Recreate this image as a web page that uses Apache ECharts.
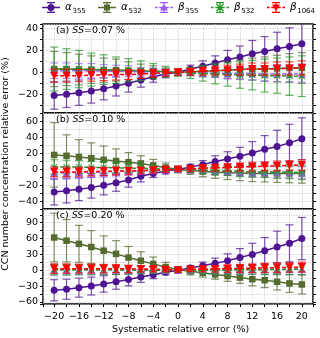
<!DOCTYPE html>
<html>
<head>
<meta charset="utf-8">
<script src="https://cdn.jsdelivr.net/npm/echarts@6/dist/echarts.min.js"></script>
<style>html,body{margin:0;padding:0;background:#fff}#chart{width:320px;height:338px}</style>
</head>
<body>
<div id="chart"></div>
<script>
// systematic relative error (%)
const xs = [-20,-18,-16,-14,-12,-10,-8,-6,-4,-2,0,2,4,6,8,10,12,14,16,18,20];

// (a) SS = 0.07 %
const a355_a     = [-21,-20,-18.5,-17,-15,-12.5,-10,-7,-4,-1.5,0,3,5.5,8.5,11.5,14,17,19,21.5,23.5,26];
const a355_a_err = [12.5,12,11.5,11,10,9,8,6.5,5,3.5,3,3.5,5,6.5,8.5,10,12,13.5,15,17,18.5];
const a532_a     = [3,3,2.5,2.5,2,2,1.5,1,1,0.5,0,0.5,1,1.5,2,2.5,3,3,3.5,4,4];
const a532_a_err = [16,15,14,12.5,11,10,8,6.5,5,3.5,3,3.5,5,6,7.5,8.5,10,11,12,13,14];
const b355_a     = [1.5,1.5,1.5,1.5,1,1,1,0.5,0.5,0,0,0,-0.5,-0.5,-1,-1,-1,-1.5,-1.5,-1.5,-1.5];
const b355_a_err = [7,7,6.5,6.5,6,5.5,5,4,3.5,3,2.5,3,3.5,4,5,5.5,6,6.5,7,7,7.5];
const b532_a     = [3,3,3,2.5,2.5,2,2,1.5,1,0.5,0,-0.5,-1,-1.5,-2,-2.5,-2.5,-3,-3,-3.5,-3.5];
const b532_a_err = [20,18.5,17,15,13.5,12,10.5,9,7,5,3.5,5,7,9,10.5,12,13.5,15,16,17.5,18.5];
const b1064_a     = [-3,-3,-3,-2.5,-2.5,-2,-2,-1.5,-1,-0.5,0,0.5,1,1.5,2,2.5,3,3,3.5,3.5,4];
const b1064_a_err = [6,6,5.5,5.5,5,5,4.5,4,3.5,3,2.5,3,3.5,4,4.5,5,5.5,5.5,6,6,6.5];

// (b) SS = 0.10 %
const a355_b     = [-28,-26.5,-24.5,-22.5,-19.5,-16.5,-13,-8.5,-5,-2,0,3,6,10,13,16.5,20.5,25,28.5,33,38];
const a355_b_err = [16,15,14,13,12,10.5,9,7,5,3.5,3,3.5,5,7,9,11,14,17,20,23,26];
const a532_b     = [18,17,15.5,14,12,10.5,9,7.5,5,2.5,0,-1,-2.5,-3.5,-4,-4.5,-5,-5,-5,-5,-5];
const a532_b_err = [40,26,21.5,19,17,15,12,9.5,7.5,5.5,4,5,6.5,7.5,8.5,9.5,10,10.5,11,11.5,12];
const b355_b     = [-4,-4,-3.5,-3.5,-3,-2.5,-2,-1.5,-1,-0.5,0,-0.5,-1,-1.5,-2,-2.5,-3,-3,-3.5,-3.5,-4];
const b355_b_err = [7.5,7,7,6.5,6,5.5,5,4.5,4,3,2.5,3,4,4.5,5,5.5,6,6.5,7,7,7.5];
const b532_b     = [3,3,3,2.5,2.5,2,1.5,1.5,1,0.5,0,-0.5,-1,-1.5,-2,-2.5,-3,-3,-3.5,-3.5,-4];
const b532_b_err = [9,8.5,8,7.5,7,6.5,6,5,4,3,2.5,3,4,5,5.5,6,6.5,7,7.5,8,8.5];
const b1064_b     = [-3,-3,-3,-2.5,-2.5,-2,-2,-1.5,-1,-0.5,0,0.5,1.5,2,2.5,3,3.5,4,4.5,5,5.5];
const b1064_b_err = [6,6,5.5,5.5,5,5,4.5,4,3.5,3,2.5,3,3.5,4,4.5,5,5.5,5.5,6,6,6.5];

// (c) SS = 0.20 %
const a355_c     = [-38,-36,-33,-30,-26,-22,-17.5,-13,-8.5,-4,0,4,8.5,13,18,24,30,37,44,51,60];
const a355_c_err = [20,19,18,17,15.5,14,12,10,7.5,5,4,5,7,10,13,17,21,25,30,35,40];
const a532_c     = [62,56,50,44,37,31,24,18,12,6,1,-2,-5,-8,-11,-14,-17,-19,-22,-25,-27];
const a532_c_err = [46,40,35,31,28,25,21,17,13,9,6,7,8,9,10,11,12.5,14,15.5,17,18];
const b355_c     = [1,1,1,1,1,1,0.5,0.5,0.5,0,0,0,0.5,0.5,1,1,1.5,1.5,2,2,2.5];
const b355_c_err = [10,10,9.5,9.5,9,8.5,8,7,6,5,4,5,6,7,8,8.5,9,9.5,10,10,10.5];
const b532_c     = [1,1,1,1,1,0.5,0.5,0.5,0,0,0,0,0,0.5,0.5,1,1,1,1.5,1.5,2];
const b532_c_err = [10,10,9.5,9.5,9,8.5,8,7,6,5,4,5,6,7,8,8.5,9,9.5,10,10,10.5];
const b1064_c     = [3,3,3,3,3,3,2.5,2.5,2,1,0,1.5,2,2.5,3,3.5,4,4.5,5,5.5,6];
const b1064_c_err = [9,9,8.5,8.5,8,7.5,7,6,5,4,3.5,4,5,6,7,7.5,8,8.5,9,9,9.5];

const panelLabels = ['0.07', '0.10', '0.20'];
const yTickStep = [20, 20, 30];

const FONT = 'DejaVu Sans';
const FS = 9.5;

// legend icons: line + error bar + marker, in a 18x11 box
const BAR = 'M0,4.8H18V6.2H0Z M8.4,0H9.6V11H8.4Z M5,0H13V1.2H5Z M5,9.8H13V11H5Z ';
const DASH = 'M0,4.8H2.6V6.2H0Z M4.2,4.8H13.8V6.2H4.2Z M15.4,4.8H18V6.2H15.4Z M8.4,0H9.6V11H8.4Z M5,0H13V1.2H5Z M5,9.8H13V11H5Z ';
const icons = {
  'α355': 'path://' + BAR + 'M5.5,5.5A3.5,3.5 0 1,1 12.5,5.5A3.5,3.5 0 1,1 5.5,5.5Z',
  'α532': 'path://' + BAR + 'M5.9,2.4H12.1V8.6H5.9Z',
  'β355': 'path://' + DASH + 'M9,1.6L12.9,8.4H5.1Z',
  'β532': 'path://' + DASH + 'M6,1.5L13,8.5L12,9.5L5,2.5Z M5,8.5L12,1.5L13,2.5L6,9.5Z',
  'β1064': 'path://' + DASH + 'M5.1,2.6H12.9L9,9.4Z'
};

const styles = [
  {name: 'α355', color: '#4f1491', symbol: 'circle', size: 7, dash: 'solid'},
  {name: 'α532', color: '#556b2f', symbol: 'rect', size: 6.5, dash: 'solid'},
  {name: 'β355', color: '#9b5cf6', symbol: 'triangle', size: 7.5, dash: [4, 2]},
  {name: 'β532', color: '#2a962a', symbol: 'path://M0,1L1,0L5,4L9,0L10,1L6,5L10,9L9,10L5,6L1,10L0,9L4,5Z', size: 6.5, dash: [4, 2]},
  {name: 'β1064', color: '#ff0000', symbol: 'triangle', rotate: 180, size: 8, dash: [4, 2]}
];

const panels = [
  [[a355_a, a355_a_err], [a532_a, a532_a_err], [b355_a, b355_a_err], [b532_a, b532_a_err], [b1064_a, b1064_a_err]],
  [[a355_b, a355_b_err], [a532_b, a532_b_err], [b355_b, b355_b_err], [b532_b, b532_b_err], [b1064_b, b1064_b_err]],
  [[a355_c, a355_c_err], [a532_c, a532_c_err], [b355_c, b355_c_err], [b532_c, b532_c_err], [b1064_c, b1064_c_err]]
];

const grids = [
  {left: 43, top: 24, width: 270, height: 89},
  {left: 43, top: 113, width: 270, height: 96},
  {left: 43, top: 209, width: 270, height: 95}
];
const yRange = [[-37, 44], [-49, 70], [-64, 116]];

function fmt(v) {
  return v < 0 ? '\u2212' + (-v) : String(v);
}

function errorBars(p, values, errs, st, z) {
  return {
    type: 'custom',
    name: st.name + ' err',
    xAxisIndex: p,
    yAxisIndex: p,
    z: z,
    silent: true,
    clip: true,
    itemStyle: {color: st.color},
    data: xs.map((x, i) => [x, values[i] - errs[i], values[i] + errs[i]]),
    encode: {x: 0, y: [1, 2]},
    renderItem: function (params, api) {
      const lo = api.coord([api.value(0), api.value(1)]);
      const hi = api.coord([api.value(0), api.value(2)]);
      const w = 4;
      const s = () => ({stroke: st.color, lineWidth: 1.2, opacity: 0.72});
      return {
        type: 'group',
        children: [
          {type: 'line', shape: {x1: lo[0], y1: lo[1], x2: hi[0], y2: hi[1]}, style: s()},
          {type: 'line', shape: {x1: lo[0] - w, y1: lo[1], x2: lo[0] + w, y2: lo[1]}, style: s()},
          {type: 'line', shape: {x1: hi[0] - w, y1: hi[1], x2: hi[0] + w, y2: hi[1]}, style: s()}
        ]
      };
    }
  };
}

const series = [];
panels.forEach((panel, p) => {
  panel.forEach((pair, k) => {
    const st = styles[k];
    series.push(errorBars(p, pair[0], pair[1], st, 2 + 2 * k));
    series.push({
      type: 'line',
      name: st.name,
      color: st.color,
      xAxisIndex: p,
      yAxisIndex: p,
      z: 3 + 2 * k,
      data: xs.map((x, i) => [x, pair[0][i]]),
      symbol: st.symbol,
      symbolSize: st.size,
      symbolRotate: st.rotate || 0,
      showAllSymbol: true,
      lineStyle: {color: st.color, width: 1.5, type: st.dash},
      itemStyle: {color: st.color, borderWidth: 0},
      emphasis: {disabled: true}
    });
  });
});

const xAxis = grids.map((g, p) => ({
  type: 'value',
  gridIndex: p,
  min: -21.8,
  max: 21.8,
  minInterval: 2,
  maxInterval: 2,
  axisLine: {show: false, onZero: false},
  axisTick: {show: p === 2, length: 3, lineStyle: {color: '#000', width: 1}},
  axisLabel: {
    show: p === 2,
    margin: 8,
    color: '#000',
    fontFamily: FONT,
    fontSize: FS,
    formatter: v => (Math.abs(v % 4) < 1e-6 ? fmt(v) : '')
  },
  splitLine: {show: true, lineStyle: {color: '#c8c8c8', width: 0.8, type: 'dotted'}}
}));

const yLeft = grids.map((g, p) => ({
  type: 'value',
  gridIndex: p,
  min: yRange[p][0],
  max: yRange[p][1],
  minInterval: yTickStep[p] / 2,
  maxInterval: yTickStep[p] / 2,
  axisLine: {show: false, onZero: false},
  axisTick: {show: true, length: 3, lineStyle: {color: '#000', width: 1}},
  axisLabel: {
    margin: 5,
    color: '#000',
    fontFamily: FONT,
    fontSize: FS,
    formatter: v => (Math.abs(v % yTickStep[p]) < 1e-6 ? fmt(v) : '')
  },
  splitLine: {show: true, lineStyle: {color: '#c8c8c8', width: 0.8, type: 'dotted'}}
}));

// tick marks on the right border
const yRight = grids.map((g, p) => ({
  type: 'value',
  gridIndex: p,
  position: 'right',
  min: yRange[p][0],
  max: yRange[p][1],
  minInterval: yTickStep[p] / 2,
  maxInterval: yTickStep[p] / 2,
  axisLine: {show: false, onZero: false},
  axisTick: {show: true, length: 3, lineStyle: {color: '#000', width: 1}},
  axisLabel: {show: false},
  splitLine: {show: false}
}));

const legendLefts = [42, 98, 155, 211, 267];
const legend = styles.map((st, k) => ({
  left: legendLefts[k],
  top: 2,
  itemWidth: 18,
  itemHeight: 11,
  selectedMode: false,
  padding: 0,
  itemStyle: {borderWidth: 0, color: st.color},
  data: [{name: st.name, icon: icons[st.name], itemStyle: {color: st.color}}],
  formatter: name => '{g|' + name[0] + '}{s|' + name.slice(1) + '}',
  textStyle: {
    color: '#000',
    rich: {
      g: {fontFamily: FONT, fontStyle: 'italic', fontSize: 10.5, lineHeight: 14, verticalAlign: 'middle', color: '#000'},
      s: {fontFamily: FONT, fontSize: 7, lineHeight: 14, verticalAlign: 'bottom', color: '#000', padding: [0, 0, 0, 0.5]}
    }
  }
}));

const title = panelLabels.map((ss, p) => ({
  text: '(' + 'abc'[p] + ') {i|SS}=' + ss + ' %',
  left: 56,
  top: grids[p].top + 2,
  padding: 0,
  textStyle: {
    fontFamily: FONT, fontSize: FS, fontWeight: 'normal', color: '#000',
    rich: {i: {fontFamily: FONT, fontSize: FS, fontStyle: 'italic', color: '#000'}}
  }
}));

const chart = echarts.init(document.getElementById('chart'), null, {renderer: 'canvas'});
chart.setOption({
  animation: false,
  backgroundColor: '#fff',
  grid: grids.map(g => Object.assign({show: true, borderColor: '#000', borderWidth: 1.5, backgroundColor: 'transparent'}, g)),
  xAxis: xAxis,
  yAxis: yLeft.concat(yRight),
  legend: legend,
  title: title,
  series: series,
  graphic: [
    {
      type: 'text', left: 180 - 68, top: 325,
      style: {text: 'Systematic relative error (%)', fontFamily: FONT, fontSize: FS, fill: '#000'}
    },
    {
      type: 'text', x: 6, y: 164, rotation: Math.PI / 2,
      style: {text: 'CCN number concentration relative error (%)', fontFamily: FONT, fontSize: FS, fill: '#000', align: 'center', verticalAlign: 'middle'}
    }
  ]
});
</script>
</body>
</html>
